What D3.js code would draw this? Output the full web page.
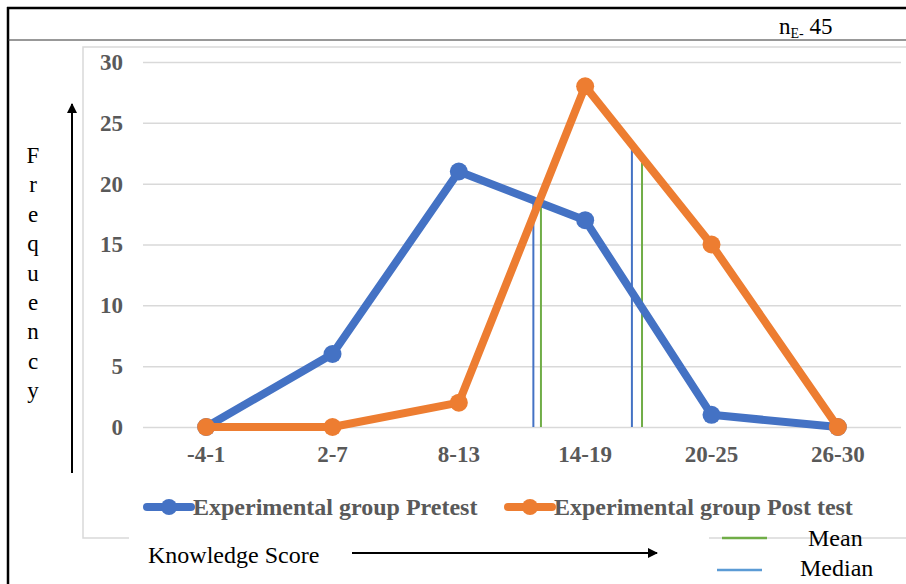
<!DOCTYPE html>
<html>
<head>
<meta charset="utf-8">
<script src="https://cdn.jsdelivr.net/npm/d3@7"></script>
<style>
  body { margin: 0; background: #fff; }
  svg { display: block; }
  text { font-family: "Liberation Serif", "Times New Roman", serif; }
</style>
</head>
<body>
<svg id="graph"></svg>
<script>
// data
var categories = ['-4-1', '2-7', '8-13', '14-19', '20-25', '26-30'];
var pretest = [0, 6, 21, 17, 1, 0];
var posttest = [0, 0, 2, 28, 15, 0];
var yTicks = [0, 5, 10, 15, 20, 25, 30];
// mean / median markers: position on the category index axis, height in frequency units
var markerPos = [2.59, 2.65, 3.37, 3.45];
var markerTop = [18.6, 18.9, 23.3, 21.7];
var markerType = ['Median', 'Mean', 'Median', 'Mean'];
var seriesNames = ['Experimental group Pretest', 'Experimental group Post test'];

var W = 906, H = 584;
var margin = { top: 62, left: 143, bottom: 157, right: 5 };
var width = W - margin.left - margin.right;
var height = H - margin.top - margin.bottom;

var blue = '#4472C4', orange = '#ED7D31', green = '#70AD47', grey = '#595959';

var svg = d3.select('#graph')
    .attr('width', W)
    .attr('height', H);

// outer frame (table lines)
svg.append('line').attr('x1', 7).attr('x2', W).attr('y1', 8).attr('y2', 8)
    .attr('stroke', '#000').attr('stroke-width', 2.5);
svg.append('line').attr('x1', 8).attr('x2', 8).attr('y1', 7).attr('y2', H)
    .attr('stroke', '#000').attr('stroke-width', 2.5);
svg.append('line').attr('x1', 8).attr('x2', W).attr('y1', 40).attr('y2', 40)
    .attr('stroke', '#333').attr('stroke-width', 1);

// n label
var nTxt = svg.append('text').attr('x', 779).attr('y', 34)
    .style('font-size', '23px').attr('fill', '#000');
nTxt.append('tspan').text('n');
nTxt.append('tspan').attr('dy', 4).style('font-size', '14px').text('E-');
nTxt.append('tspan').attr('dy', -4).text(' 45');

// chart area border
svg.append('rect')
    .attr('x', 83).attr('y', 47)
    .attr('width', W).attr('height', 491)
    .attr('fill', 'none').attr('stroke', '#D9D9D9').attr('stroke-width', 1.5);

var g = svg.append('g')
    .attr('transform', 'translate(' + margin.left + ',' + margin.top + ')');

var xScale = d3.scaleBand().domain(categories).range([0, width]);
var yScale = d3.scaleLinear().domain([0, 30]).range([height, 0]);
var xIdx = d3.scaleLinear().domain([0, categories.length - 1])
    .range([xScale(categories[0]) + xScale.bandwidth() / 2,
            xScale(categories[categories.length - 1]) + xScale.bandwidth() / 2]);

// gridlines + y labels
var yAxis = d3.axisLeft(yScale).tickValues(yTicks).tickSize(-width).tickPadding(20);
var yG = g.append('g').attr('class', 'y axis').call(yAxis);
yG.select('.domain').remove();
yG.selectAll('.tick line').attr('stroke', '#D9D9D9').attr('stroke-width', 1.5);
yG.selectAll('.tick text')
    .attr('fill', grey)
    .style('font-size', '23px').style('font-weight', 'bold')
    .style('font-family', '"Liberation Serif", serif');

// x labels
var xAxis = d3.axisBottom(xScale).tickSize(0).tickPadding(19);
var xG = g.append('g').attr('class', 'x axis')
    .attr('transform', 'translate(0,' + height + ')')
    .call(xAxis);
xG.select('.domain').remove();
xG.selectAll('.tick text')
    .attr('fill', grey)
    .style('font-size', '23px').style('font-weight', 'bold')
    .style('font-family', '"Liberation Serif", serif');

// mean / median vertical lines
g.selectAll('.marker')
    .data(markerPos)
    .enter().append('line')
    .attr('class', 'marker')
    .attr('x1', function (d) { return xIdx(d); })
    .attr('x2', function (d) { return xIdx(d); })
    .attr('y1', yScale(0))
    .attr('y2', function (d, i) { return yScale(markerTop[i]); })
    .attr('stroke', function (d, i) { return markerType[i] == 'Mean' ? green : blue; })
    .attr('stroke-width', 2);

var line = d3.line()
    .x(function (d, i) { return xScale(categories[i]) + xScale.bandwidth() / 2; })
    .y(function (d) { return yScale(d); });

function drawSeries(values, color) {
    g.append('path')
        .datum(values)
        .attr('d', line)
        .attr('fill', 'none')
        .attr('stroke', color)
        .attr('stroke-width', 8)
        .attr('stroke-linejoin', 'round');
    g.selectAll(null)
        .data(values)
        .enter().append('circle')
        .attr('cx', function (d, i) { return xScale(categories[i]) + xScale.bandwidth() / 2; })
        .attr('cy', function (d) { return yScale(d); })
        .attr('r', 9)
        .attr('fill', color);
}
drawSeries(pretest, blue);
drawSeries(posttest, orange);

// legend
var legend = svg.append('g').attr('transform', 'translate(0,507)');
[[147, blue, seriesNames[0]], [508, orange, seriesNames[1]]].forEach(function (l) {
    legend.append('line')
        .attr('x1', l[0]).attr('x2', l[0] + 44)
        .attr('stroke', l[1]).attr('stroke-width', 8).attr('stroke-linecap', 'round');
    legend.append('circle').attr('cx', l[0] + 22).attr('r', 8).attr('fill', l[1]);
    legend.append('text')
        .attr('x', l[0] + 46).attr('y', 8)
        .attr('fill', grey)
        .style('font-size', '24px').style('font-weight', 'bold')
        .text(l[2]);
});

// white box for the Knowledge Score text (covers part of the border)
svg.append('rect').attr('x', 129).attr('y', 530).attr('width', 580).attr('height', 54).attr('fill', '#fff');

svg.append('defs').append('marker')
    .attr('id', 'arrow')
    .attr('viewBox', '0 0 10 10')
    .attr('refX', 9).attr('refY', 5)
    .attr('markerWidth', 5).attr('markerHeight', 5)
    .attr('orient', 'auto')
    .append('path').attr('d', 'M0,0L10,5L0,10z').attr('fill', '#000');

svg.append('text').attr('x', 148).attr('y', 563)
    .style('font-size', '24px').attr('fill', '#000')
    .text('Knowledge Score');
svg.append('line').attr('x1', 352).attr('x2', 657).attr('y1', 553).attr('y2', 553)
    .attr('stroke', '#000').attr('stroke-width', 2).attr('marker-end', 'url(#arrow)');

// y label, one letter per row, and its arrow
var yLabel = 'Frequency'.split('');
svg.selectAll('.ylab')
    .data(yLabel)
    .enter().append('text')
    .attr('class', 'ylab')
    .attr('x', 33).attr('y', function (d, i) { return 163 + i * 29.4; })
    .attr('text-anchor', 'middle')
    .style('font-size', '23px').attr('fill', '#000')
    .text(function (d) { return d; });
svg.append('line').attr('x1', 72).attr('x2', 72).attr('y1', 473).attr('y2', 104)
    .attr('stroke', '#000').attr('stroke-width', 2).attr('marker-end', 'url(#arrow)');

// mean / median key
var key = svg.append('g');
key.append('line').attr('x1', 722).attr('x2', 767).attr('y1', 538).attr('y2', 538)
    .attr('stroke', green).attr('stroke-width', 2.5);
key.append('text').attr('x', 808).attr('y', 546).style('font-size', '24px').text('Mean');
key.append('line').attr('x1', 717).attr('x2', 762).attr('y1', 570).attr('y2', 570)
    .attr('stroke', '#5B9BD5').attr('stroke-width', 2.5);
key.append('text').attr('x', 800).attr('y', 576).style('font-size', '24px').text('Median');
</script>
</body>
</html>
